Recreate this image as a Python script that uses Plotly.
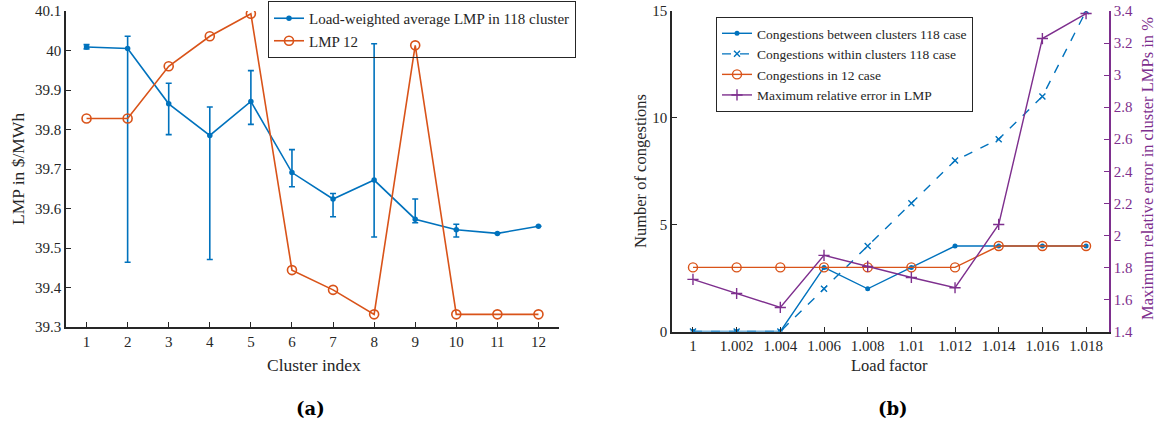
import plotly.graph_objects as go

# ---------------- data: panel (a) ----------------
cluster_idx = [1, 2, 3, 4, 5, 6, 7, 8, 9, 10, 11, 12]
lmp118_avg = [40.009, 40.005, 39.865, 39.785, 39.871, 39.691, 39.624, 39.672, 39.573, 39.546, 39.537, 39.555]
lmp118_err_up = [0.006, 0.031, 0.052, 0.072, 0.078, 0.058, 0.014, 0.345, 0.051, 0.014, 0.0, 0.0]
lmp118_err_dn = [0.005, 0.541, 0.078, 0.314, 0.058, 0.036, 0.045, 0.144, 0.009, 0.018, 0.0, 0.0]
lmp12 = [39.828, 39.828, 39.960, 40.036, 40.093, 39.444, 39.394, 39.332, 40.013, 39.332, 39.332, 39.332]
a_xticks = [1, 2, 3, 4, 5, 6, 7, 8, 9, 10, 11, 12]
a_yticks = [39.3, 39.4, 39.5, 39.6, 39.7, 39.8, 39.9, 40.0, 40.1]
a_yticktext = ["39.3", "39.4", "39.5", "39.6", "39.7", "39.8", "39.9", "40", "40.1"]

# ---------------- data: panel (b) ----------------
load_factor = [1.000, 1.002, 1.004, 1.006, 1.008, 1.010, 1.012, 1.014, 1.016, 1.018]
load_factor_text = ["1", "1.002", "1.004", "1.006", "1.008", "1.01", "1.012", "1.014", "1.016", "1.018"]
cong_between = [0, 0, 0, 3, 2, 3, 4, 4, 4, 4]
cong_within = [0, 0, 0, 2, 4, 6, 8, 9, 11, 15]
cong_12 = [3, 3, 3, 3, 3, 3, 3, 4, 4, 4]
max_rel_err = [1.725, 1.637, 1.550, 1.875, 1.806, 1.737, 1.673, 2.068, 3.228, 3.384]
b_yticks = [0, 5, 10, 15]
b_y2ticks = [1.4, 1.6, 1.8, 2.0, 2.2, 2.4, 2.6, 2.8, 3.0, 3.2, 3.4]
b_y2ticktext = ["1.4", "1.6", "1.8", "2", "2.2", "2.4", "2.6", "2.8", "3", "3.2", "3.4"]

W, H = 1168, 430
BLUE = "#0072BD"
ORANGE = "#D95319"
PURPLE = "#7E2F8E"
TXT = "#262626"
FONT = "Liberation Serif"


def fx(px):
    return px / W


def fy(py):
    return 1 - py / H


fig = go.Figure()

# panel (a)
fig.add_trace(go.Scatter(
    x=cluster_idx, y=lmp118_avg, mode="lines+markers",
    name="Load-weighted average LMP in 118 cluster",
    line=dict(color=BLUE, width=1.6),
    marker=dict(color=BLUE, size=5.5, symbol="circle"),
    error_y=dict(type="data", symmetric=False, array=lmp118_err_up, arrayminus=lmp118_err_dn,
                 color=BLUE, thickness=1.6, width=3),
    xaxis="x", yaxis="y", legend="legend"))
fig.add_trace(go.Scatter(
    x=cluster_idx, y=lmp12, mode="lines+markers", name="LMP 12",
    line=dict(color=ORANGE, width=1.6),
    marker=dict(color=ORANGE, size=9, symbol="circle-open", line=dict(width=1.6)),
    xaxis="x", yaxis="y", legend="legend"))

# panel (b)
fig.add_trace(go.Scatter(
    x=load_factor, y=cong_between, mode="lines+markers",
    name="Congestions between clusters 118 case",
    line=dict(color=BLUE, width=1.4),
    marker=dict(color=BLUE, size=5, symbol="circle"),
    xaxis="x2", yaxis="y2", legend="legend2"))
fig.add_trace(go.Scatter(
    x=load_factor, y=cong_within, mode="lines+markers",
    name="Congestions within clusters 118 case",
    line=dict(color=BLUE, width=1.4, dash="dash"),
    marker=dict(color=BLUE, size=6, symbol="x-thin-open", line=dict(width=1.4, color=BLUE)),
    xaxis="x2", yaxis="y2", legend="legend2"))
fig.add_trace(go.Scatter(
    x=load_factor, y=cong_12, mode="lines+markers",
    name="Congestions in 12 case",
    line=dict(color=ORANGE, width=1.4),
    marker=dict(color=ORANGE, size=9, symbol="circle-open", line=dict(width=1.4)),
    xaxis="x2", yaxis="y2", legend="legend2"))
fig.add_trace(go.Scatter(
    x=load_factor, y=max_rel_err, mode="lines+markers",
    name="Maximum relative error in LMP",
    line=dict(color=PURPLE, width=1.4),
    marker=dict(color=PURPLE, size=8, symbol="cross-thin-open", line=dict(width=1.4, color=PURPLE)),
    xaxis="x2", yaxis="y3", legend="legend2"))

axis_common = dict(showgrid=False, zeroline=False, showline=True, linewidth=1.6,
                   ticks="inside", ticklen=5, tickwidth=1.4, mirror=False, automargin=False,
                   tickfont=dict(family=FONT, size=15, color=TXT))

fig.update_layout(
    width=W, height=H,
    margin=dict(l=0, r=0, t=0, b=0, autoexpand=False),
    paper_bgcolor="white", plot_bgcolor="white",
    font=dict(family=FONT, color=TXT),
    xaxis=dict(domain=[fx(66), fx(559)], range=[0.5, 12.5], tickvals=a_xticks,
               anchor="y", linecolor=TXT, tickcolor=TXT, **axis_common),
    yaxis=dict(domain=[fy(327), fy(11)], range=[39.3, 40.1], tickvals=a_yticks,
               ticktext=a_yticktext, anchor="x", linecolor=TXT, tickcolor=TXT, **axis_common),
    xaxis2=dict(domain=[fx(672), fx(1109)], range=[0.99904, 1.01905], tickvals=load_factor,
                ticktext=load_factor_text, anchor="y2", linecolor=TXT, tickcolor=TXT, **axis_common),
    yaxis2=dict(domain=[fy(331.5), fy(11)], range=[0, 15], tickvals=b_yticks,
                anchor="x2", linecolor=TXT, tickcolor=TXT, **axis_common),
    yaxis3=dict(range=[1.4, 3.4], tickvals=b_y2ticks, ticktext=b_y2ticktext,
                overlaying="y2", side="right", anchor="x2", automargin=False,
                showgrid=False, zeroline=False, showline=True, linewidth=1.6, linecolor=PURPLE,
                ticks="inside", ticklen=5, tickwidth=1.4, tickcolor=PURPLE,
                tickfont=dict(family=FONT, size=15, color=PURPLE)),
    legend=dict(x=fx(268), y=fy(1), xanchor="left", yanchor="top",
                bgcolor="rgba(255,255,255,0)", bordercolor=TXT, borderwidth=1,
                font=dict(family=FONT, size=15, color=TXT), tracegroupgap=0),
    legend2=dict(x=fx(716), y=fy(17), xanchor="left", yanchor="top",
                 bgcolor="white", bordercolor=TXT, borderwidth=1,
                 font=dict(family=FONT, size=13.5, color=TXT), tracegroupgap=0),
    showlegend=True,
)


def label(text, px, py, size, color=TXT, angle=0, family=FONT):
    return dict(text=text, x=fx(px), y=fy(py), xref="paper", yref="paper",
                xanchor="center", yanchor="middle", textangle=angle, showarrow=False,
                font=dict(family=family, size=size, color=color))


ann = [
    label("Cluster index", 314, 365, 17.5),
    label("LMP in $/MWh", 18, 169, 17.5, angle=-90),
    label("Load factor", 889, 365, 16.5),
    label("Number of congestions", 640, 171, 16.5, angle=-90),
    label("Maximum relative error in cluster LMPs in %", 1147, 169, 16.5, color=PURPLE, angle=-90),
    label("<b>(a)</b>", 310, 408, 18, color="black", family="DejaVu Serif"),
    label("<b>(b)</b>", 893, 408, 18, color="black", family="DejaVu Serif"),
]
fig.update_layout(annotations=ann)

fig.write_html(
    "out.html",
    config={"displayModeBar": False},
    post_script="document.body.style.margin='0';document.body.style.overflow='hidden';",
)
